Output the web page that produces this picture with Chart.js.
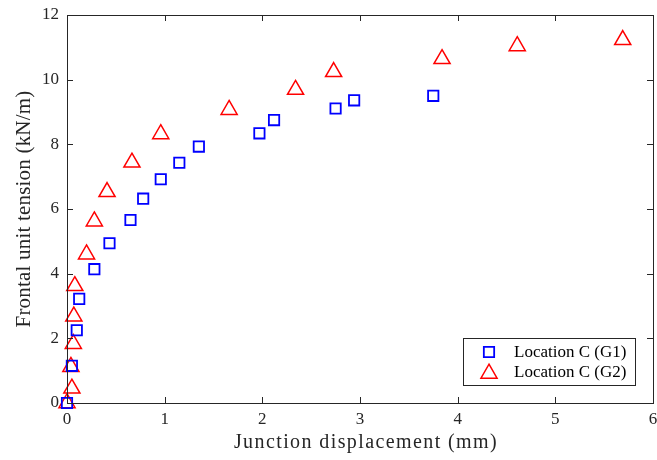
<!DOCTYPE html>
<html>
<head>
<meta charset="utf-8">
<script src="https://cdn.jsdelivr.net/npm/chart.js@4.4.1/dist/chart.umd.min.js"></script>
<style>
  html, body { margin: 0; padding: 0; background: #ffffff; }
  #wrap { width: 657px; height: 460px; }
</style>
</head>
<body>
<div id="wrap"><canvas id="c" width="657" height="460"></canvas></div>
<script>
// Junction displacement (mm) and frontal unit tension (kN/m), location C
const g1Disp    = [0, 0.05, 0.10, 0.125, 0.28, 0.435, 0.65, 0.78, 0.96, 1.15, 1.35, 1.97, 2.12, 2.75, 2.94, 3.75];
const g1Tension = [0, 1.15, 2.25, 3.22, 4.14, 4.94, 5.66, 6.32, 6.92, 7.43, 7.93, 8.34, 8.75, 9.11, 9.36, 9.50];

const g2Disp    = [0, 0.05, 0.04, 0.065, 0.07, 0.08, 0.20, 0.28, 0.41, 0.665, 0.96, 1.66, 2.34, 2.73, 3.84, 4.61, 5.69];
const g2Tension = [0, 0.45, 1.12, 1.83, 2.68, 3.62, 4.60, 5.62, 6.53, 7.44, 8.32, 9.07, 9.69, 10.24, 10.64, 11.04, 11.23];

const seriesLabels = ['Location C (G1)', 'Location C (G2)'];
const xTicks = [0, 1, 2, 3, 4, 5, 6];
const yTicks = [0, 2, 4, 6, 8, 10, 12];
const xTitle = 'Junction displacement (mm)';
const yTitle = 'Frontal unit tension (kN/m)';

const AXIS_COLOR = '#262626';
const FONT = '"Liberation Serif", "Times New Roman", serif';

const toPoints = (xs, ys) => xs.map((x, i) => ({ x: x, y: ys[i] }));

// Inward tick marks on all four sides plus the surrounding box
const boxTicks = {
  id: 'boxTicks',
  afterDraw(chart) {
    const { ctx, chartArea: a, scales } = chart;
    const len = 6;
    ctx.save();
    ctx.strokeStyle = AXIS_COLOR;
    ctx.lineWidth = 1;
    ctx.beginPath();
    xTicks.forEach(v => {
      const px = Math.round(scales.x.getPixelForValue(v)) + 0.5;
      ctx.moveTo(px, a.bottom); ctx.lineTo(px, a.bottom - len);
      ctx.moveTo(px, a.top);    ctx.lineTo(px, a.top + len);
    });
    yTicks.forEach(v => {
      const py = Math.round(scales.y.getPixelForValue(v)) + 0.5;
      ctx.moveTo(a.left, py);  ctx.lineTo(a.left + len, py);
      ctx.moveTo(a.right, py); ctx.lineTo(a.right - len, py);
    });
    ctx.stroke();
    ctx.strokeRect(Math.round(a.left) + 0.5, Math.round(a.top) + 0.5,
                   Math.round(a.right - a.left), Math.round(a.bottom - a.top));
    ctx.restore();
  }
};

// Axis titles, slightly letter-spaced
const axisTitles = {
  id: 'axisTitles',
  afterDraw(chart) {
    const { ctx, chartArea: a } = chart;
    ctx.save();
    ctx.fillStyle = AXIS_COLOR;
    ctx.textAlign = 'center';
    ctx.textBaseline = 'alphabetic';
    ctx.font = '20px ' + FONT;
    ctx.letterSpacing = '1.4px';
    ctx.fillText(xTitle, (a.left + a.right) / 2 + 6, 448);
    ctx.font = '21px ' + FONT;
    ctx.letterSpacing = '0.2px';
    ctx.translate(30, (a.top + a.bottom) / 2);
    ctx.rotate(-Math.PI / 2);
    ctx.fillText(yTitle, 0, 0);
    ctx.restore();
  }
};

// Legend box in the lower right corner of the plot
const insetLegend = {
  id: 'insetLegend',
  afterDraw(chart) {
    const { ctx, chartArea: a } = chart;
    const w = 172, h = 47;
    const x0 = a.right - 18 - w, y0 = a.bottom - 18 - h;
    ctx.save();
    ctx.fillStyle = '#ffffff';
    ctx.fillRect(x0, y0, w, h);
    ctx.strokeStyle = AXIS_COLOR;
    ctx.lineWidth = 1;
    ctx.strokeRect(Math.round(x0) + 0.5, Math.round(y0) + 0.5, w, h);
    chart.data.datasets.forEach((ds, i) => {
      const cy = y0 + 14 + i * 20;
      ctx.fillStyle = 'rgba(0,0,0,0)';
      ctx.strokeStyle = ds.borderColor;
      ctx.lineWidth = ds.borderWidth;
      Chart.helpers.drawPoint(ctx, {
        pointStyle: ds.pointStyle,
        radius: ds.pointRadius,
        borderWidth: ds.borderWidth
      }, x0 + 26, cy + (ds.pointStyle === 'triangle' ? 1.5 : 0));
      ctx.font = '17px ' + FONT;
      ctx.textBaseline = 'middle';
      ctx.fillStyle = '#000000';
      ctx.fillText(ds.label, x0 + 51, cy + 1);
    });
    ctx.restore();
  }
};

new Chart(document.getElementById('c'), {
  type: 'scatter',
  data: {
    datasets: [
      {
        label: seriesLabels[0],
        data: toPoints(g1Disp, g1Tension),
        pointStyle: 'rect',
        pointRadius: 7.3,
        borderWidth: 1.8,
        borderColor: '#0000ff',
        backgroundColor: 'rgba(0,0,0,0)',
        clip: false
      },
      {
        label: seriesLabels[1],
        data: toPoints(g2Disp, g2Tension),
        pointStyle: 'triangle',
        pointRadius: 9.3,
        borderWidth: 1.5,
        borderColor: '#ff0000',
        backgroundColor: 'rgba(0,0,0,0)',
        clip: false
      }
    ]
  },
  options: {
    responsive: false,
    animation: false,
    devicePixelRatio: 1,
    layout: { autoPadding: false, padding: { top: 15, right: 4, left: 0, bottom: 0 } },
    plugins: {
      legend: { display: false },
      tooltip: { enabled: false }
    },
    elements: { point: { hoverRadius: 0 } },
    scales: {
      x: {
        type: 'linear',
        min: 0, max: 6,
        afterBuildTicks: s => { s.ticks = xTicks.map(v => ({ value: v })); },
        afterFit: s => { s.height = 57; s.paddingLeft = 0; s.paddingRight = 0; },
        grid: { display: false, drawTicks: false },
        border: { display: false },
        ticks: { color: AXIS_COLOR, font: { family: FONT, size: 17 }, padding: 6 },
        title: { display: false }
      },
      y: {
        type: 'linear',
        min: 0, max: 12,
        afterBuildTicks: s => { s.ticks = yTicks.map(v => ({ value: v })); },
        afterFit: s => { s.width = 67; s.paddingTop = 0; s.paddingBottom = 0; },
        grid: { display: false, drawTicks: false },
        border: { display: false },
        ticks: { color: AXIS_COLOR, font: { family: FONT, size: 17 }, padding: 8 },
        title: { display: false }
      }
    }
  },
  plugins: [boxTicks, axisTitles, insetLegend]
});
</script>
</body>
</html>
